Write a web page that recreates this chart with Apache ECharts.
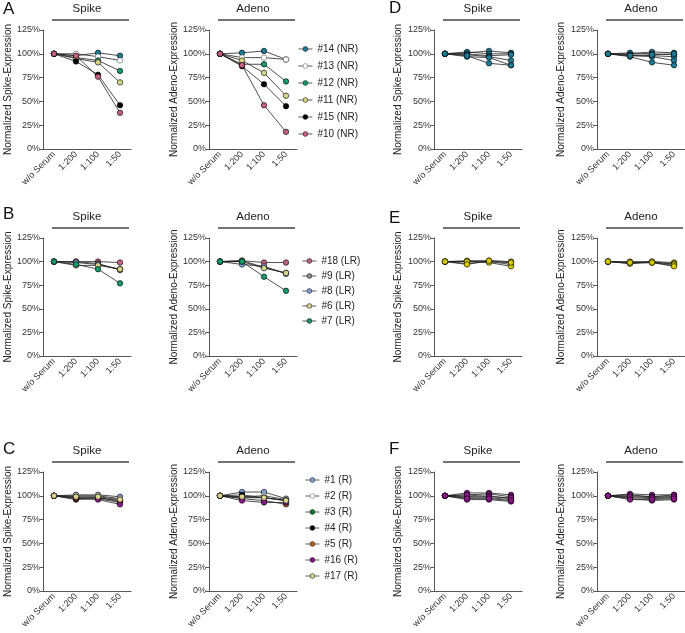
<!DOCTYPE html>
<html lang="en">
<head>
<meta charset="utf-8" />
<title>Serum neutralization</title>
<script src="https://cdn.jsdelivr.net/npm/echarts@6/dist/echarts.min.js"></script>
<style>
    html, body { margin: 0; background: #FFFFFF; }
    #chart { width: 685px; height: 633px; }
</style>
</head>
<body>
<div id="chart"></div>
<script>
// x categories and y ticks
var categories = ['w/o Serum', '1:200', '1:100', '1:50'];

// A - non responders
var nrNames = ['#14 (NR)', '#13 (NR)', '#12 (NR)', '#11 (NR)', '#15 (NR)', '#10 (NR)'];
var nrSpike = [[100, 98, 101, 98], [100, 100, 97, 93], [100, 96, 93, 82], [100, 95, 91, 70], [100, 92, 78, 46], [100, 98, 76, 38]];
var nrAdeno = [[100, 101, 103, 94], [100, 96, 96, 94], [100, 89, 89, 71], [100, 93, 80, 56], [100, 87, 68, 45], [100, 88, 46, 18]];

// B - low responders
var lrNames = ['#18 (LR)', '#9 (LR)', '#8 (LR)', '#6 (LR)', '#7 (LR)'];
var lrSpike = [[100, 100, 100, 99], [100, 100, 98, 91], [100, 99, 97, 92], [100, 96, 96, 92], [100, 97, 92, 77]];
var lrAdeno = [[100, 101, 99, 99], [100, 101, 94, 88], [100, 97, 95, 87], [100, 100, 93, 88], [100, 100, 84, 69]];

// C - responders
var rNames = ['#1 (R)', '#2 (R)', '#3 (R)', '#4 (R)', '#5 (R)', '#16 (R)', '#17 (R)'];
var rSpike = [[100, 101, 101, 99], [100, 100, 100, 97], [100, 98, 98, 94], [100, 96, 97, 93], [100, 97, 98, 95], [100, 98, 96, 91], [100, 99, 99, 96]];
var rAdeno = [[100, 104, 104, 97], [100, 99, 100, 96], [100, 98, 98, 95], [100, 101, 98, 95], [100, 97, 95, 91], [100, 95, 93, 93], [100, 99, 98, 95]];

// D, E, F
var dSpike = [[100, 101, 103, 101], [100, 102, 100, 100], [100, 100, 98, 99], [100, 99, 97, 93], [100, 97, 96, 88], [100, 98, 90, 88]];
var dAdeno = [[100, 100, 102, 101], [100, 101, 100, 99], [100, 99, 98, 97], [100, 98, 97, 93], [100, 97, 91, 88], [100, 98, 99, 100]];
var eSpike = [[100, 101, 101, 100], [100, 100, 100, 99], [100, 98, 100, 97], [100, 100, 99, 95], [100, 97, 101, 99]];
var eAdeno = [[100, 100, 100, 99], [100, 98, 99, 98], [100, 99, 99, 96], [100, 98, 100, 97], [100, 99, 99, 95]];
var fSpike = [[100, 103, 103, 101], [100, 101, 102, 99], [100, 99, 100, 97], [100, 98, 98, 96], [100, 96, 96, 94], [100, 101, 99, 98], [100, 97, 97, 95]];
var fAdeno = [[100, 102, 101, 101], [100, 100, 99, 99], [100, 98, 97, 98], [100, 97, 95, 96], [100, 101, 99, 101], [100, 99, 98, 99], [100, 96, 96, 97]];

// colours
var nrColors = ['#1d7a94', '#ffffff', '#139a6a', '#d8d48c', '#000000', '#c2607e'];
var lrColors = ['#c2607e', '#8c8c8c', '#7fa2d8', '#d8d48c', '#139a6a'];
var rColors = ['#7fa2d8', '#ffffff', '#1b7a2b', '#000000', '#c0651c', '#8a168a', '#d8d48c'];

var FONT = 'Liberation Sans, Arial, sans-serif';
var colLeft = [43, 209, 434, 597];
var rowTop = [30, 238, 472];
var rowH = [119, 118, 119];
var nameGaps = [25, 29.5, 30.5, 30.5];

var panels = [
    { row: 0, col: 0, title: 'Spike', data: nrSpike, names: nrNames, colors: nrColors },
    { row: 0, col: 1, title: 'Adeno', data: nrAdeno, names: nrNames, colors: nrColors },
    { row: 1, col: 0, title: 'Spike', data: lrSpike, names: lrNames, colors: lrColors },
    { row: 1, col: 1, title: 'Adeno', data: lrAdeno, names: lrNames, colors: lrColors },
    { row: 2, col: 0, title: 'Spike', data: rSpike, names: rNames, colors: rColors },
    { row: 2, col: 1, title: 'Adeno', data: rAdeno, names: rNames, colors: rColors },
    { row: 0, col: 2, title: 'Spike', data: dSpike, color: '#1d7a94', tag: 'D' },
    { row: 0, col: 3, title: 'Adeno', data: dAdeno, color: '#1d7a94', tag: 'D' },
    { row: 1, col: 2, title: 'Spike', data: eSpike, color: '#d6cc00', tag: 'E' },
    { row: 1, col: 3, title: 'Adeno', data: eAdeno, color: '#d6cc00', tag: 'E' },
    { row: 2, col: 2, title: 'Spike', data: fSpike, color: '#8a168a', tag: 'F' },
    { row: 2, col: 3, title: 'Adeno', data: fAdeno, color: '#8a168a', tag: 'F' }
];

function edge(c) { return c === '#ffffff' ? '#555' : '#000'; }

var grids = [], xAxes = [], yAxes = [], series = [], titles = [], graphics = [];

panels.forEach(function (p, g) {
    var left = colLeft[p.col], top = rowTop[p.row];
    grids.push({ left: left, top: top, width: 88, height: rowH[p.row] });
    xAxes.push({
        gridIndex: g, type: 'category', data: categories, boundaryGap: true,
        axisLine: { lineStyle: { color: '#555', width: 1 } },
        axisTick: { alignWithLabel: true, length: 3, lineStyle: { color: '#555' } },
        axisLabel: { rotate: 45, interval: 0, margin: 4, fontSize: 9, color: '#333', fontFamily: FONT }
    });
    yAxes.push({
        gridIndex: g, type: 'value', min: 0, max: 125, interval: 25,
        name: 'Normalized ' + p.title + '-Expression', nameLocation: 'middle', nameGap: nameGaps[p.col],
        nameTextStyle: { fontSize: 10, color: '#222', fontFamily: FONT },
        axisLine: { show: true, lineStyle: { color: '#555', width: 1 } },
        axisTick: { show: true, length: 3, lineStyle: { color: '#555' } },
        splitLine: { show: false },
        axisLabel: { formatter: '{value}%', margin: 3, fontSize: 9, color: '#333', fontFamily: FONT }
    });
    titles.push({
        text: p.title, left: left + 44, top: top - 27, textAlign: 'center', padding: 0,
        textStyle: { fontSize: 11.5, fontWeight: 'normal', color: '#222', fontFamily: FONT }
    });
    graphics.push({
        type: 'line', shape: { x1: left + 9, y1: top - 10, x2: left + 86, y2: top - 10 },
        style: { stroke: '#444', lineWidth: 1.3 }
    });
    p.data.forEach(function (vals, i) {
        var c = p.colors ? p.colors[i] : p.color;
        series.push({
            type: 'line', name: p.names ? p.names[i] : p.tag + (i + 1),
            xAxisIndex: g, yAxisIndex: g, data: vals,
            symbol: 'circle', symbolSize: 5.5,
            lineStyle: { color: '#222', width: 0.8 },
            itemStyle: { color: c, borderColor: edge(c), borderWidth: 0.6 },
            emphasis: { disabled: true }, animation: false
        });
    });
});

// panel letters
[['A', 3, 1], ['B', 3, 206], ['C', 3, 441], ['D', 389, 0], ['E', 389, 210], ['F', 389, 441]].forEach(function (l) {
    titles.push({ text: l[0], left: l[1], top: l[2], padding: 0, textStyle: { fontSize: 17, fontWeight: 'normal', color: '#111', fontFamily: FONT } });
});

function legendAt(names, colors, left, top, gap) {
    return {
        data: names.map(function (n, i) {
            return {
                name: n,
                itemStyle: { color: colors[i], borderColor: edge(colors[i]), borderWidth: 0.5 },
                lineStyle: { color: '#333', width: 0.8 }
            };
        }),
        orient: 'vertical', left: left, top: top, padding: 0,
        itemWidth: 14, itemHeight: 6, itemGap: gap, selectedMode: false,
        textStyle: { fontSize: 10, color: '#222', fontFamily: FONT }
    };
}

var chart = echarts.init(document.getElementById('chart'), null, { renderer: 'canvas' });
chart.setOption({
    animation: false,
    title: titles,
    grid: grids,
    xAxis: xAxes,
    yAxis: yAxes,
    legend: [
        legendAt(nrNames, nrColors, 298, 44, 7),
        legendAt(lrNames, lrColors, 302, 256, 5),
        legendAt(rNames, rColors, 305, 475, 6)
    ],
    graphic: graphics,
    series: series
});
</script>
</body>
</html>
